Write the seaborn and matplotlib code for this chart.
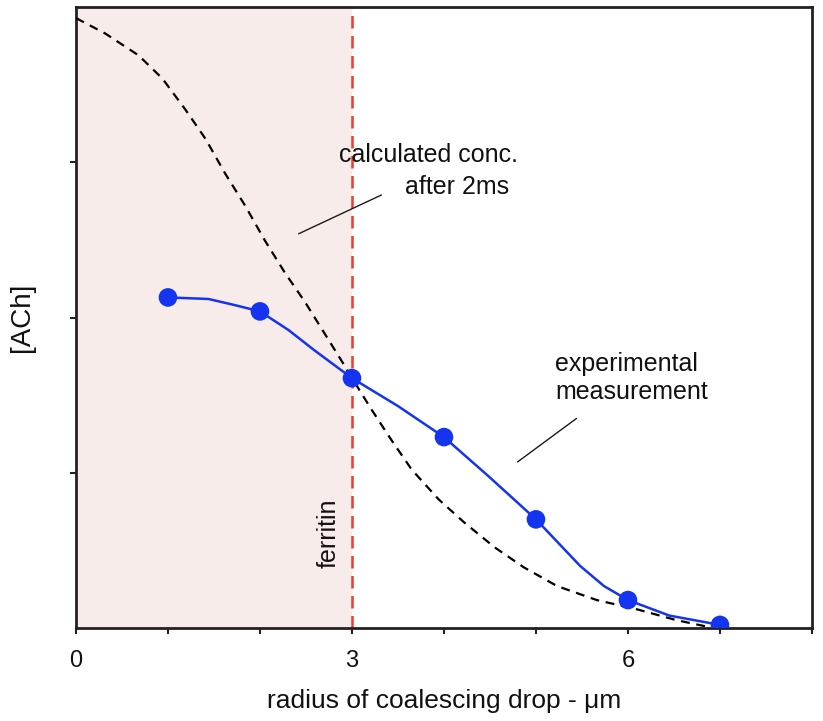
import numpy as np
import pandas as pd
import matplotlib
matplotlib.use("Agg")
import matplotlib.pyplot as plt
import seaborn as sns

# measured points (blue markers)
radius = [1, 2, 3, 4, 5, 6, 7]
ach_measured = [2.13, 2.04, 1.61, 1.23, 0.70, 0.18, 0.02]

# blue connecting line
line_x = [1.0, 1.44, 1.73, 2.0, 2.31, 2.59, 3.0, 3.5, 4.0, 4.48, 5.0, 5.48, 5.74, 6.0, 6.45, 7.0]
line_y = [2.13, 2.12, 2.08, 2.04, 1.92, 1.79, 1.61, 1.43, 1.23, 0.98, 0.70, 0.40, 0.27, 0.18, 0.08, 0.02]

# calculated concentration after 2ms (black dashed curve)
calc_x = [0.0, 0.32, 0.68, 0.94, 1.19, 1.41, 1.62, 1.84, 2.05, 2.27, 2.49, 2.70, 2.92, 3.0,
          3.21, 3.43, 3.65, 3.94, 4.22, 4.55, 4.87, 5.23, 5.66, 6.10, 6.53, 6.85, 7.0]
calc_y = [3.93, 3.83, 3.69, 3.54, 3.34, 3.15, 2.93, 2.72, 2.50, 2.29, 2.10, 1.90, 1.69, 1.61,
          1.41, 1.21, 1.02, 0.83, 0.68, 0.52, 0.39, 0.27, 0.18, 0.12, 0.05, 0.01, 0.0]

ferritin_r = 3
x_ticks = [0, 3, 6]

sns.set_style("ticks")
plt.rcParams['font.family'] = ['Liberation Sans', 'DejaVu Sans']

fig = plt.figure(figsize=(8.23, 7.21), dpi=100)
ax = fig.add_axes([0.0923, 0.129, 0.8943, 0.861])

# shaded region below ferritin size
ax.axvspan(0, ferritin_r, color="#f8eceb", zorder=0, lw=0)
ax.axvline(ferritin_r, color="#ee3b2b", lw=1.8, ls=(0, (5, 3)), zorder=2)

sns.lineplot(x=calc_x, y=calc_y, ax=ax, color="black", lw=1.6,
             linestyle=(0, (4, 3)), sort=False, zorder=3)
sns.lineplot(x=line_x, y=line_y, ax=ax, color="#1434f0", lw=1.8, sort=False, zorder=4)
sns.scatterplot(x=radius, y=ach_measured, ax=ax, color="#1434f0", s=180,
                edgecolor="none", zorder=5)

# annotations
txt = dict(fontsize=18, color="#111111")
ax.text(3.83, 3.05, "calculated conc.", ha="center", va="center", **txt)
ax.text(4.14, 2.84, "after 2ms", ha="center", va="center", **txt)
ax.plot([2.42, 3.32], [2.54, 2.79], color="#1a1a1a", lw=1)
ax.text(5.21, 1.70, "experimental", ha="left", va="center", **txt)
ax.text(5.21, 1.52, "measurement", ha="left", va="center", **txt)
ax.plot([4.80, 5.44], [1.07, 1.35], color="#1a1a1a", lw=1)
ax.text(2.75, 0.61, "ferritin", rotation=90, ha="center", va="center", **txt)

ax.set_xlim(0, 8)
ax.set_ylim(0, 4)
ax.set_xticks(range(0, 9))
ax.set_xticklabels([str(i) if i in x_ticks else "" for i in range(0, 9)])
ax.set_yticks([1, 2, 3])
ax.set_yticklabels([])
ax.tick_params(direction="out", length=4, width=1.5, colors="#222222",
               labelsize=17, pad=12)
ax.tick_params(labelcolor="#111111")
for s in ax.spines.values():
    s.set_linewidth(2)
    s.set_color("#222222")

ax.set_xlabel("radius of coalescing drop - \u03bcm", fontsize=19, color="#111111", labelpad=12)
ax.set_ylabel("[ACh]", fontsize=20, color="#111111")
ax.yaxis.set_label_coords(-0.056, 0.5)

fig.savefig("out.png", dpi=100)
